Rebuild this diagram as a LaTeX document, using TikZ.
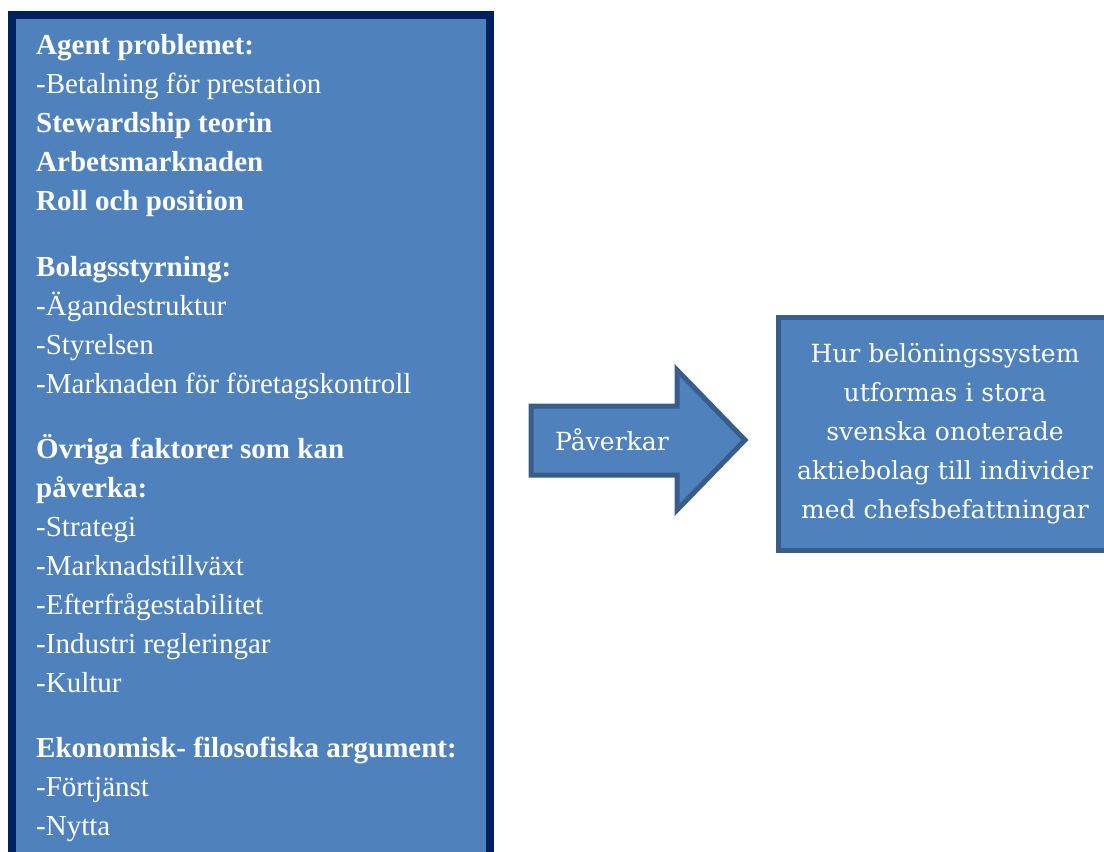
\documentclass[tikz,border=0pt]{standalone}
\usepackage{fontspec}
\setmainfont{Liberation Serif}
\newfontfamily\boxfont{DejaVu Serif}
\definecolor{officeblue}{HTML}{4F81BD}
\definecolor{navyedge}{HTML}{002060}
\definecolor{blueedge}{HTML}{385D8A}

\tikzset{   leftbox/.style={draw=navyedge,fill=officeblue,line width=8pt},
            bluebox/.style={draw=blueedge,fill=officeblue,line width=5pt},
            lefttext/.style={text=white,align=left,inner sep=0pt,font=\fontsize{29}{39}\selectfont},
            boxtext/.style={text=white,align=center,font=\boxfont\fontsize{25}{39}\selectfont},
}

\begin{document}
\begin{tikzpicture}[x=1pt,y=-1pt]
    \useasboundingbox (0,0) rectangle (1104,852);
    \clip (0,0) rectangle (1104,852);

    \draw[leftbox] (12,15) rectangle (490,900); % left box, runs past the page

    \node[lefttext,anchor=base west] (factors) at (36,835) {% base = last line
        \textbf{Agent problemet:}\\
        -Betalning för prestation\\
        \textbf{Stewardship teorin}\\
        \textbf{Arbetsmarknaden}\\
        \textbf{Roll och position}\\[27pt]
        \textbf{Bolagsstyrning:}\\
        -Ägandestruktur\\
        -Styrelsen\\
        -Marknaden för företagskontroll\\[26pt]
        \textbf{Övriga faktorer som kan}\\
        \textbf{påverka:}\\
        -Strategi\\
        -Marknadstillväxt\\
        -Efterfrågestabilitet\\
        -Industri regleringar\\
        -Kultur\\[26pt]
        \textbf{Ekonomisk- filosofiska argument:}\\
        -Förtjänst\\
        -Nytta};

    \draw[bluebox,line join=miter] (531,406) -- (677,406) -- (677,370) -- (745,440)
        -- (677,510) -- (677,475) -- (531,475) -- cycle; % block arrow
    \node[boxtext,anchor=base west,inner sep=0pt] (affects) at (555,450) {Påverkar};

    \node[bluebox,boxtext,minimum width=334pt,minimum height=233pt] (result) at (945,433.5)
        {Hur belöningssystem\\utformas i stora\\svenska onoterade\\aktiebolag till individer\\med chefsbefattningar};
\end{tikzpicture}
\end{document}
